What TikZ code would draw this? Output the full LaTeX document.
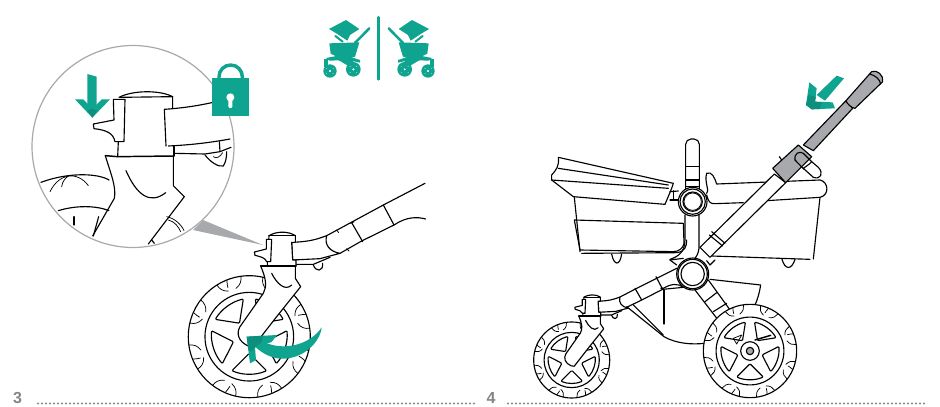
\documentclass[tikz,border=0pt]{standalone}
\usepackage{fontspec}
\setmainfont{Liberation Sans}
\definecolor{teal1}{HTML}{0FA48F}
\definecolor{teal2}{HTML}{0C8F7C}
\definecolor{greyA}{HTML}{A7A9AC}
\definecolor{greyN}{HTML}{858585}
\tikzset{
 lineart/.style={line width=.85pt,line join=round,line cap=round},
 thin1/.style={line width=.55pt},
 rulerdots/.style={draw=greyN,line width=1.8pt,line cap=round,dash pattern=on 0pt off 3pt},
 stepnum/.style={font=\bfseries\fontsize{12}{13}\selectfont,text=greyN,inner sep=0pt},
 zoomA/.style={shift={(0,40)},x=.25pt,y=-.25pt},
 zoomB/.style={shift={(170,170)},x=.25pt,y=-.25pt},
 zoomC/.style={shift={(310,10)},x=.25pt,y=-.25pt},
 zoomD/.style={shift={(530,60)},x=.25pt,y=-.25pt},
 zoomE/.style={shift={(520,240)},x=.25pt,y=-.25pt},
}
\newcommand\tyrewheel[3]{%
 \begin{scope}[shift={(#1,#2)},x=#3pt,y=-#3pt]
  \draw[fill=white] (0,0) circle[radius=183];
  \draw (0,0) circle[radius=133];
  \foreach \a in {0,72,144,216,288}{
   \draw[rotate=\a,rounded corners=.8pt] (0,50) -- (-52,102) .. controls (-20,116) and (20,116) .. (52,102) -- cycle;
  }
  \foreach \a in {20,65,110,155,200,245,290,335}{
   \begin{scope}[rotate=\a]
    \draw[thin1] (-38,-178) .. controls (-35,-165) and (-28,-155) .. (-12,-150);
    \draw[thin1] (38,-178) .. controls (35,-165) and (28,-155) .. (12,-150);
    \draw[thin1] (-5,-183) .. controls (-8,-172) and (-10,-165) .. (-10,-160);
   \end{scope}
  }
 \end{scope}}
\newcommand\forkparts{%
  \draw[fill=white] (272,288) .. controls (290,330) and (290,350) .. (280,370) -- (210,470)
     .. controls (198,490) and (205,515) .. (235,528) -- (250,530) -- (320,440) -- (392,350) -- (376,325) -- (376,288) -- cycle;
  \draw (305,310) .. controls (320,340) and (345,365) .. (365,345);
  \draw[fill=white] (365,217) .. controls (420,215) and (440,208) .. (470,197)
     .. controls (462,225) and (480,245) .. (510,250) -- (450,266) -- (368,270) -- cycle;
  \draw (378,283) -- (430,283) -- (480,262);
  \draw (430,285) .. controls (437,306) and (460,306) .. (458,280);
  \draw[fill=white] (297,197) .. controls (320,183) and (355,183) .. (376,197) -- (376,217) -- (365,217) -- (368,270) -- (378,270) -- (378,288) -- (292,288) -- (292,275) -- (297,197);
  \draw (297,197) -- (376,197);
  \draw[fill=white] (289,208) -- (305,208) -- (302,275) -- (290,275) .. controls (285,262) and (270,260) .. (255,256) -- (253,246) -- (289,237) -- cycle;
  \draw[line width=1pt] (272,288) -- (378,288);
}
\newcommand\iconpram{%
  \fill[teal1] (57,57) -- (108,30) -- (148,57) -- (120,75) -- (112,92) -- (82,72) -- cycle;
  \draw[teal1,line width=1.9pt,line cap=round] (178,55) -- (135,99);
  \draw[teal1,line width=1.5pt] (76,78) -- (98,95);
  \fill[teal1] (58,100) -- (148,97) -- (138,131) -- (135,140) -- (100,150) -- (62,131) -- cycle;
  \fill[teal1] (48,144) -- (100,134) -- (150,150) -- (150,158) -- (115,150) -- (58,152) -- cycle;
  \fill[teal1] (43,146) rectangle (55,170);
  \fill[teal1] (85,150) -- (135,150) -- (115,168) -- cycle;
  \fill[teal1,even odd rule] (60,183) circle[radius=20] (60,183) circle[radius=4] (50,175) circle[radius=2] (69,176) circle[radius=2] (50,191) circle[radius=2] (69,191) circle[radius=2];
  \fill[teal1,even odd rule] (130,178) circle[radius=22] (130,178) circle[radius=4] (120,170) circle[radius=2] (140,170) circle[radius=2] (120,187) circle[radius=2] (140,187) circle[radius=2];
}
\begin{document}
\begin{tikzpicture}[x=.75pt,y=-.75pt,lineart]
\useasboundingbox (0,0) rectangle (940,407);
\fill[white] (0,0) rectangle (940,407);

% --- step labels and dotted rules ---
\node[stepnum,anchor=mid] (stepthree) at (17.5,399.5) {3};
\node[stepnum,anchor=mid] (stepfour) at (491,399.5) {4};
\coordinate (ruleAa) at (38,403.5);
\coordinate (ruleAb) at (477,403.5);
\coordinate (ruleBa) at (508,403.5);
\coordinate (ruleBb) at (925,403.5);
\draw[rulerdots] (ruleAa) -- (ruleAb);
\draw[rulerdots] (ruleBa) -- (ruleBb);

% --- magnifier callout ---
\fill[greyA] (203,220) -- (263,245) -- (193,230) -- cycle;
\draw[draw=greyA,line width=.9pt,fill=white] (133,146.5) circle[radius=101];

\begin{scope}[zoomA]
 \draw (123,427) .. controls (200,398) and (290,398) .. (327,420);
 \draw[thin1] (150,455) .. controls (165,425) and (185,412) .. (205,408);
 \draw[thin1] (265,437) .. controls (250,415) and (225,405) .. (205,408);
 \draw[thin1] (185,440) .. controls (187,425) and (195,415) .. (205,408);
 \draw (175,512) .. controls (230,495) and (290,497) .. (327,512);
 \draw (222,530) -- (222,555);
 \draw (296,530) -- (280,588);
 \draw[thin1] (500,530) .. controls (525,535) and (545,555) .. (552,572);
 \draw[thin1] (505,540) .. controls (525,545) and (535,560) .. (542,575);
 \draw (455,600) -- (463,610);
 \draw (316,347) .. controls (330,395) and (350,440) .. (343,475) -- (278,588);
 \draw (520,348) -- (520,437) -- (553,470) -- (445,612);
 \draw (378,392) .. controls (410,465) and (450,495) .. (497,458);
 \draw (357,172) .. controls (400,150) and (480,150) .. (518,170);
 \draw (360,172) -- (518,170) -- (518,205);
 \draw (355,305) -- (353,350);
 \draw (522,318) -- (522,348);
 \draw[line width=1.1pt] (316,347) -- (353,350) -- (522,348);
 \draw (340,178) -- (375,178) -- (372,305) -- (345,305) .. controls (340,280) and (320,270) .. (282,266) -- (280,252) -- (342,240) -- (340,178) -- cycle;
 \draw (493,208) -- (498,318);
 \draw (493,208) .. controls (540,205) and (590,198) .. (635,188);
 \draw (505,318) .. controls (570,315) and (630,308) .. (690,297);
 \draw (522,340) -- (615,342) -- (660,335) -- (693,322);
 \draw (658,305) -- (660,335);
 \draw (615,345) .. controls (630,365) and (655,382) .. (670,378) .. controls (678,365) and (680,350) .. (680,335);
 \draw[thin1] (640,350) .. controls (650,358) and (660,350) .. (668,338);
 % padlock
 \draw[teal1,line width=2.6pt,line cap=butt] (657,118) -- (657,110) arc[start angle=180,end angle=360,radius=35] -- (727,118);
 \fill[teal1] (636,115) rectangle (747,227);
 \fill[white] (691,172) circle[radius=12];
 \fill[white,rounded corners=1pt] (685,172) rectangle (697,204);
 % down arrow
 \fill[teal1] (262,102) -- (290,110) -- (290,215) -- (262,215) -- cycle;
 \fill[teal1] (225,178) -- (250,178) -- (277,206) -- (305,178) -- (330,178) -- (277,233) -- cycle;
 \fill[teal2] (262,212) -- (277,206) -- (291,212) -- (277,233) -- cycle;
\end{scope}

% --- close-up 1: front wheel ---
\tyrewheel{249.3}{336.7}{.25}
\begin{scope}[zoomB]
 \forkparts
 \draw (470,197) -- (640,105) -- (765,40);
 \draw (510,250) -- (575,213) -- (672,165) .. controls (710,140) and (740,140) .. (767,147);
 \draw (545,158) -- (578,215);
 \draw (640,105) -- (672,165);
 \draw[thin1] (540,160) -- (552,156);
 \draw[thin1] (500,180) -- (506,188);
 \draw[thin1] (530,236) -- (537,243);
 % teal turn arrow
 \fill[teal1] (455,472) .. controls (450,520) and (395,570) .. (330,566) .. controls (295,562) and (270,545) .. (250,525) -- (280,515)
   .. controls (340,545) and (420,525) .. cycle;
 \fill[teal1] (321,495) -- (230,500) -- (240,580) -- (258,570) -- (255,532) -- (305,516) -- cycle;
 \fill[teal2] (230,500) -- (280,497) -- (275,516) -- (255,532) -- (245,545) -- (235,540) -- cycle;
\end{scope}

% --- pram icons and divider ---
\begin{scope}[zoomC]
 \draw[teal1,line width=2pt,line cap=round] (206,22) -- (206,208);
 \iconpram
 \begin{scope}[shift={(414,0)},xscale=-1]
  \iconpram
 \end{scope}
\end{scope}

% --- step 4 ---
\begin{scope}[zoomE]
 \draw (570,118) -- (722,135) .. controls (718,160) and (712,180) .. (705,195);
 \draw (320,200) -- (432,290) .. controls (470,312) and (520,314) .. (552,310);
 \draw (340,195) -- (430,285);
 \draw (432,150) -- (432,252);
 \draw (430,145) .. controls (455,130) and (475,130) .. (490,142);
 \draw (525,150) -- (592,237);
 \draw (565,120) -- (628,207);
 \draw (555,185) -- (590,158);
 \draw (580,215) -- (620,190);
 \draw (470,85) -- (350,145) -- (300,171);
 \draw (490,142) -- (428,148) -- (365,180) -- (320,202);
 \draw (345,145) -- (365,180);
 \draw (408,110) -- (428,148);
 \draw[thin1] (425,145) circle[radius=3];
 \draw (275,42) .. controls (282,78) and (300,78) .. (305,42);
 \draw (785,55) .. controls (795,92) and (815,90) .. (825,58);
 \draw (575,48) -- (870,58);
 \draw (450,60) -- (470,75);
 \draw (450,60) -- (490,55);
 \draw (560,62) -- (570,75) -- (585,60);
\end{scope}
\begin{scope}[zoomD]
 \draw (530,340) .. controls (545,332) and (555,355) .. (560,372) -- (870,360)
    .. controls (895,365) and (900,405) .. (870,412) -- (710,422);
 \draw (530,340) .. controls (522,365) and (540,395) .. (530,400);
 \draw (530,405) .. controls (535,425) and (540,432) .. (555,431) -- (640,428);
 \draw (870,412) -- (850,597);
 \draw (133,412) -- (150,575);
 \draw (155,580) -- (440,578) .. controls (465,575) and (470,560) .. (470,540);
 \draw (133,480) -- (460,490) -- (462,550) .. controls (460,565) and (445,575) .. (430,575) -- (150,570) -- cycle;
 \draw[fill=white] (85,292) -- (430,370) -- (425,385) -- (405,433) -- (130,410) -- (65,360) -- (65,345) .. controls (78,330) and (88,320) .. (85,292) -- cycle;
 \draw (85,325) -- (415,375);
 \draw (65,360) -- (415,385);
 \draw[rounded corners=4pt] (467,390) -- (467,237) -- (508,237) -- (508,390);
 \draw (467,320) -- (508,320);
 \draw (467,360) -- (508,360);
 \draw (467,380) -- (508,380);
 \draw (420,395) -- (445,393);
 \draw (420,420) -- (445,420);
 \draw (430,392) -- (430,420);
 \draw (465,465) -- (465,540) .. controls (465,575) and (445,590) .. (420,598);
 \draw (507,465) -- (507,565) .. controls (505,580) and (500,590) .. (492,598);
 \draw[fill=white] (488,425) circle[radius=43];
 \draw (488,425) circle[radius=38];
 \draw (488,425) circle[radius=29];
 \draw[thin1] (488,425) circle[radius=26];
 \draw[fill=white] (733,342) -- (510,562) -- (540,592) -- (767,368) -- cycle;
 \draw (545,515) -- (585,550);
 \draw (538,525) -- (578,558);
 \draw[fill=greyA] (948,122) -- (820,255) -- (850,272) -- (968,145) -- cycle;
 \draw[fill=greyA] (1025,35) .. controls (1040,28) and (1062,45) .. (1058,65) -- (975,145) .. controls (965,145) and (950,130) .. (948,122) -- cycle;
 \draw (1018,42) .. controls (1035,45) and (1050,58) .. (1052,72);
 \draw[fill=greyA] (728,325) -- (805,255) -- (845,290) -- (767,368) -- cycle;
 \draw (795,300) .. controls (792,280) and (808,272) .. (820,280) -- (845,305);
 \draw[fill=white] (820,325) -- (850,352) .. controls (872,360) and (882,340) .. (865,322) -- (845,305) -- (838,312) -- cycle;
 \draw (795,300) -- (822,328);
 \draw (748,290) -- (755,300);
 \fill[teal1] (942,55) -- (920,47) -- (860,105) -- (885,122) -- cycle;
 \fill[teal1] (838,67) -- (860,85) -- (855,125) -- (908,127) -- (915,145) -- (845,148) -- (828,135) -- cycle;
 \fill[teal2] (835,105) -- (858,110) -- (855,125) -- (875,126) -- (870,147) -- (845,148) -- (828,135) -- cycle;
\end{scope}
\begin{scope}[zoomE]
 \draw[fill=white] (518,102) circle[radius=48];
 \draw (518,102) circle[radius=44];
 \draw (518,102) circle[radius=35];
\end{scope}
% rear wheel
\tyrewheel{750}{351}{.1913}
\draw[fill=white] (750,351) circle[radius=9.3];
\draw[fill=greyA] (750,351) circle[radius=3.7];
\begin{scope}[zoomE]
 \draw[thin1] (640,295) -- (665,285) -- (650,312) -- cycle;
 \draw[line width=1.1pt] (705,300) -- (752,286);
\end{scope}
% front assembly of step 4
\tyrewheel{571.7}{360}{.1558}
\begin{scope}[shift={(571.7-238*.2077,360-500*.2077)},x=.1558pt,y=-.1558pt]
 \forkparts
\end{scope}
\end{tikzpicture}
\end{document}
